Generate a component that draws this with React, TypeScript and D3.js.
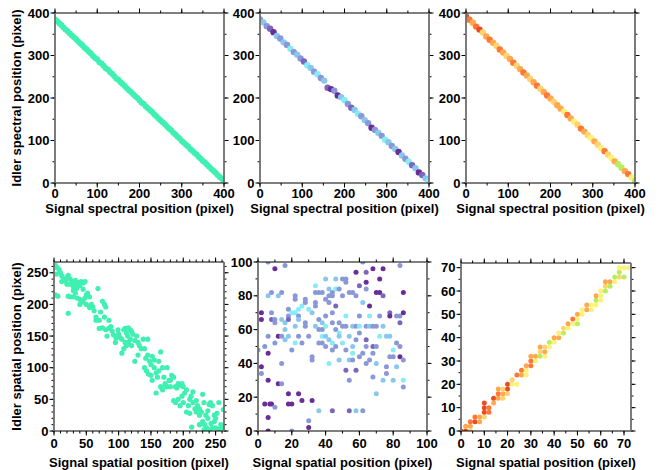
import React from 'react';
import * as d3 from 'd3';

// top row: spectral correlations, [signal px, idler px] (+ colour level)
const spectralGreen: [number, number][] = [
  [0, 385], [5, 381], [10, 376], [15, 372], [20, 366], [25, 361], [30, 357], [35, 352], [40, 347], [45, 343],
  [50, 338], [55, 333], [60, 328], [65, 324], [70, 318], [75, 314], [80, 309], [85, 305], [90, 299], [95, 294],
  [100, 291], [105, 284], [110, 281], [115, 276], [120, 270], [125, 267], [130, 261], [135, 257], [140, 252], [145, 246],
  [150, 243], [155, 237], [160, 233], [165, 228], [170, 223], [175, 218], [180, 214], [185, 209], [190, 204], [195, 200],
  [200, 195], [205, 189], [210, 186], [215, 180], [220, 176], [225, 171], [230, 167], [235, 161], [240, 157], [245, 152],
  [250, 147], [255, 143], [260, 138], [265, 133], [270, 128], [275, 124], [280, 118], [285, 114], [290, 109], [295, 105],
  [300, 99], [305, 95], [310, 90], [315, 86], [320, 80], [325, 76], [330, 71], [335, 67], [340, 62], [345, 57],
  [350, 52], [355, 48], [360, 43], [365, 38], [370, 33], [375, 29], [380, 24], [385, 19], [390, 14], [395, 10], [400, 5],
];

const spectralCool: [number, number, number][] = [
  [0, 385, 2], [8, 378, 1], [16, 369, 2], [24, 363, 3], [32, 355, 4], [40, 346, 1], [48, 340, 2], [56, 331, 1],
  [64, 325, 2], [72, 316, 0], [80, 308, 2], [88, 302, 1], [96, 293, 2], [104, 286, 3], [112, 277, 0], [120, 271, 1],
  [128, 262, 2], [136, 256, 0], [144, 247, 2], [152, 241, 1], [160, 224, 3], [168, 221, 4], [176, 217, 2], [184, 206, 4],
  [192, 202, 1], [200, 195, 0], [208, 186, 2], [216, 177, 3], [224, 172, 1], [232, 163, 0], [240, 157, 2], [248, 148, 1],
  [256, 141, 2], [264, 130, 4], [272, 125, 2], [280, 118, 1], [288, 111, 2], [296, 102, 0], [304, 96, 1], [312, 87, 2],
  [320, 80, 1], [328, 73, 4], [336, 65, 1], [344, 57, 2], [352, 50, 0], [360, 42, 3], [368, 35, 1], [376, 25, 4],
  [384, 19, 3], [392, 11, 1], [400, 4, 0],
];

const spectralWarm: [number, number, number][] = [
  [0, 392, 5], [8, 384, 4], [16, 377, 3], [24, 368, 4], [32, 361, 5], [40, 354, 2], [48, 345, 3], [56, 337, 4],
  [64, 330, 3], [72, 323, 2], [80, 314, 4], [88, 307, 3], [96, 299, 2], [104, 292, 3], [112, 283, 4], [120, 276, 2],
  [128, 268, 3], [136, 260, 4], [144, 253, 3], [152, 245, 2], [160, 237, 3], [168, 229, 4], [176, 222, 2], [184, 214, 3],
  [192, 206, 4], [200, 199, 3], [208, 191, 2], [216, 183, 3], [224, 175, 3], [232, 168, 1], [240, 160, 4], [248, 152, 3],
  [256, 144, 1], [264, 137, 2], [272, 128, 4], [280, 121, 3], [288, 113, 2], [296, 106, 1], [304, 98, 3], [312, 90, 2],
  [320, 82, 1], [328, 75, 4], [336, 67, 2], [344, 59, 1], [352, 51, 3], [360, 44, 0], [368, 36, 0], [376, 28, 3],
  [384, 21, 4], [392, 13, 1], [400, 5, 0],
];

// bottom row: spatial correlations
const spatialGreen: [number, number][] = [
  [2, 262], [5, 258], [8, 255], [10, 250], [4, 248], [12, 245], [15, 240], [18, 238], [20, 243], [22, 246],
  [25, 240], [28, 236], [30, 233], [33, 238], [35, 232], [38, 235], [40, 230], [42, 236], [45, 234], [48, 236],
  [20, 232], [25, 232], [30, 228], [35, 225], [12, 236], [18, 237], [2, 215], [6, 213], [22, 213], [25, 212],
  [30, 212], [33, 218], [36, 210], [40, 208], [43, 206], [45, 204], [48, 210], [50, 215], [52, 218], [55, 212],
  [50, 200], [55, 195], [58, 200], [60, 196], [40, 200], [22, 186], [30, 222], [45, 224],
  [65, 180], [70, 175], [68, 225], [75, 205], [78, 200], [80, 196], [72, 188], [62, 190], [65, 175], [70, 162],
  [75, 163], [80, 160], [82, 150], [85, 162], [88, 165], [90, 158], [92, 152], [95, 140], [96, 147], [99, 160],
  [100, 153], [102, 148], [105, 145], [108, 160], [110, 162], [112, 155], [114, 150], [115, 163], [118, 160], [120, 157],
  [122, 153], [110, 140], [112, 135], [115, 140], [118, 145], [120, 135], [105, 123], [108, 130], [125, 143], [128, 150],
  [130, 140], [132, 135], [135, 130], [138, 145], [140, 130], [125, 110], [130, 120], [145, 145], [78, 180], [85, 175],
  [142, 115], [145, 120], [148, 110], [150, 105], [152, 118], [155, 112], [140, 100], [143, 95], [146, 90], [150, 88],
  [152, 80], [155, 100], [158, 92], [160, 85], [162, 95], [165, 125], [168, 100], [170, 85], [172, 75], [175, 70],
  [178, 80], [180, 70], [182, 88], [185, 85], [188, 70], [190, 68], [192, 75], [195, 72], [198, 75], [200, 70],
  [165, 70], [168, 65], [172, 72], [158, 60], [185, 48], [188, 45], [192, 50], [195, 40], [198, 55], [200, 45],
  [202, 60], [205, 65], [162, 110], [175, 100], [180, 80],
  [205, 30], [208, 40], [210, 50], [212, 55], [215, 45], [218, 35], [220, 30], [222, 40], [225, 25], [228, 30],
  [230, 58], [232, 45], [235, 25], [238, 20], [240, 42], [242, 45], [245, 40], [248, 25], [250, 20], [252, 28],
  [255, 45], [258, 10], [260, 5], [262, 34], [265, 2], [210, 28], [215, 62], [220, 48], [225, 35], [230, 15],
  [233, 10], [236, 5], [240, 2], [245, 5], [248, 15], [238, 32], [243, 12], [213, 6], [225, 10], [250, 5],
  [255, 3], [232, 2],
];

const spatialCool: [number, number, number][] = [
  [0, 48, 2], [2, 70, 4], [2, 66, 4], [2, 38, 4], [2, 34, 2], [4, 50, 2], [4, 16, 4],
  [6, 100, 2], [6, 80, 1], [6, 56, 2], [6, 46, 4], [6, 30, 4], [6, 8, 4], [6, 0, 4],
  [7, 16, 4], [8, 82, 2], [8, 70, 2], [8, 66, 3], [8, 16, 4],
  [10, 96, 4], [10, 66, 2], [10, 64, 2], [10, 52, 2], [10, 14, 2],
  [12, 80, 1], [12, 56, 4], [12, 28, 4], [14, 82, 2], [14, 66, 1], [14, 40, 2], [14, 28, 2], [14, 56, 2],
  [16, 98, 2], [16, 64, 1], [16, 60, 1], [16, 54, 1],
  [18, 72, 2], [18, 68, 2], [18, 66, 3], [18, 56, 1], [18, 22, 4], [18, 16, 4],
  [20, 70, 0], [20, 48, 2], [20, 16, 4], [20, 0, 2],
  [22, 80, 2], [22, 78, 2], [22, 70, 0], [22, 62, 1], [22, 52, 0],
  [24, 72, 0], [24, 68, 2], [24, 66, 1], [24, 56, 2], [24, 22, 4],
  [26, 74, 0], [26, 52, 2], [26, 18, 4], [28, 78, 2], [28, 76, 2], [28, 64, 2], [28, 62, 2],
  [30, 72, 0], [30, 56, 2], [30, 6, 2], [30, 2, 4], [32, 70, 1], [32, 44, 2], [32, 42, 2], [32, 18, 4],
  [34, 86, 0], [34, 82, 2], [34, 76, 2], [34, 74, 2], [34, 62, 1],
  [36, 82, 2], [36, 66, 2], [36, 60, 2], [36, 52, 2], [36, 12, 1],
  [38, 82, 2], [38, 64, 1], [38, 60, 2], [38, 56, 0], [38, 52, 2],
  [40, 90, 1], [40, 78, 2], [40, 68, 2], [40, 62, 0], [40, 56, 1], [40, 50, 2],
  [42, 84, 1], [42, 80, 2], [42, 76, 2], [42, 54, 1], [42, 40, 0],
  [44, 82, 2], [44, 80, 2], [44, 70, 2], [44, 64, 2], [44, 52, 0], [44, 48, 2], [44, 12, 3],
  [46, 90, 1], [46, 84, 0], [46, 74, 3], [46, 60, 2], [46, 50, 2],
  [48, 84, 2], [48, 64, 2], [48, 58, 0], [48, 56, 1], [48, 42, 1],
  [50, 90, 2], [50, 80, 2], [50, 62, 2], [50, 52, 0],
  [52, 90, 2], [52, 88, 2], [52, 68, 0], [52, 62, 2], [52, 48, 2], [52, 36, 3],
  [54, 82, 2], [54, 56, 1], [54, 42, 1], [54, 30, 2], [54, 12, 3],
  [56, 82, 2], [56, 62, 1], [56, 50, 1], [56, 46, 0], [56, 42, 2],
  [58, 94, 4], [58, 80, 2], [58, 62, 2], [58, 54, 2], [58, 36, 3], [58, 12, 1],
  [60, 86, 3], [60, 68, 2], [60, 62, 0], [60, 44, 2], [60, 58, 2],
  [62, 100, 2], [62, 76, 1], [62, 46, 2], [62, 12, 2],
  [64, 94, 3], [64, 88, 4], [64, 84, 2], [64, 62, 2], [64, 54, 3], [64, 50, 2], [64, 40, 2],
  [66, 74, 4], [66, 68, 0], [66, 62, 1], [66, 42, 2],
  [68, 96, 4], [68, 62, 2], [68, 50, 3], [68, 46, 2], [68, 32, 2],
  [70, 82, 4], [70, 62, 2], [70, 50, 2], [70, 40, 1], [70, 22, 1],
  [72, 90, 4], [72, 82, 4], [72, 68, 2], [72, 56, 0],
  [74, 96, 4], [74, 80, 3], [74, 62, 1], [74, 30, 1],
  [76, 56, 1], [76, 38, 2], [76, 34, 2], [78, 70, 3], [78, 68, 4], [78, 56, 1], [78, 44, 2],
  [80, 48, 0], [80, 44, 2], [80, 30, 1], [82, 68, 2], [82, 52, 2], [82, 38, 1],
  [84, 98, 2], [84, 68, 2], [84, 64, 3], [84, 50, 2], [84, 44, 4],
  [86, 82, 4], [86, 70, 4], [86, 42, 2], [86, 30, 0], [86, 26, 2],
];

const spatialWarm: [number, number, number][] = [
  [0, 0, 5], [2, 0, 5], [2, 2, 3], [4, 2, 3], [4, 0, 2], [4, 4, 4], [6, 4, 5], [6, 6, 4],
  [8, 4, 3], [8, 6, 3], [10, 6, 2], [10, 8, 5], [10, 10, 5], [10, 12, 5], [12, 8, 4], [12, 10, 4],
  [14, 12, 3], [14, 14, 5], [16, 14, 3], [16, 16, 4], [16, 18, 3], [18, 14, 2], [18, 16, 3], [18, 18, 2],
  [20, 16, 2], [20, 18, 5], [20, 20, 5], [22, 20, 1], [22, 22, 2], [24, 20, 1], [24, 24, 4], [26, 24, 3],
  [26, 26, 4], [28, 24, 1], [28, 26, 1], [28, 28, 3], [30, 28, 4], [30, 30, 4], [30, 32, 3], [32, 30, 1],
  [32, 32, 3], [34, 32, 0], [34, 34, 2], [34, 36, 3], [36, 32, 1], [36, 34, 3], [36, 36, 2], [38, 36, 1],
  [38, 38, 0], [40, 38, 1], [40, 40, 3], [42, 40, 3], [42, 42, 1], [44, 42, 0], [44, 44, 2], [46, 44, 1],
  [46, 46, 3], [48, 46, 1], [48, 48, 4], [50, 46, 0], [50, 48, 1], [50, 50, 3], [52, 50, 1], [52, 52, 1],
  [54, 52, 3], [54, 54, 3], [56, 52, 1], [56, 54, 1], [58, 54, 1], [58, 56, 0], [58, 58, 3], [60, 56, 1],
  [60, 58, 1], [60, 60, 1], [62, 60, 0], [62, 62, 2], [62, 64, 3], [64, 62, 0], [64, 64, 3], [66, 64, 1],
  [66, 66, 0], [68, 66, 2], [68, 68, 0], [68, 70, 1], [70, 66, 0], [70, 70, 1], [72, 70, 1],
];

const spectralTicks = [0, 100, 200, 300, 400];
const spatialTicksA = [0, 50, 100, 150, 200, 250];
const spatialTicksB = [0, 20, 40, 60, 80, 100];
const spatialTicksC = [0, 10, 20, 30, 40, 50, 60, 70];

const green = '#3ff0b2';
const coolColors = ['#86ecf6', '#88c8ec', '#8a98d8', '#7a66bc', '#6a2c96'];
const warmColors = ['#b8ee5e', '#fbf27a', '#ffd272', '#ffa84e', '#ff7636', '#ee4a22'];

type Dot = { x: number; y: number; fill: string };

const font = "'Liberation Sans', Arial, sans-serif";

function Panel(props: {
  id: string; left: number; top: number; width: number; height: number;
  xMax: number; yMax: number; xTicks: number[]; yTicks: number[];
  xStep: number; yStep: number; dots: Dot[]; r: number;
  xLabel: string; yLabel?: string; tickDy: number; labelY: number;
}) {
  const { id, left, top, width, height, xMax, yMax, xTicks, yTicks, xStep, yStep, dots, r } = props;
  const x = d3.scaleLinear().domain([0, xMax]).range([left, left + width]);
  const y = d3.scaleLinear().domain([0, yMax]).range([top + height, top]);
  const xMinor = d3.range(0, xMax + 1e-6, xStep);
  const yMinor = d3.range(0, yMax + 1e-6, yStep);
  const bottom = top + height;
  const right = left + width;
  const major = 4.5;
  const minor = 2.5;
  return (
    <g>
      <clipPath id={id}>
        <rect x={left} y={top} width={width} height={height} />
      </clipPath>
      <g clipPath={`url(#${id})`}>
        {dots.map((d, i) => (
          <circle key={i} cx={x(d.x)} cy={y(d.y)} r={r} fill={d.fill} />
        ))}
      </g>
      {/* minor ticks */}
      {xMinor.map((v) => (
        <g key={'xm' + v} stroke="#000" strokeWidth={1}>
          <line x1={x(v)} x2={x(v)} y1={bottom} y2={bottom + minor} />
          <line x1={x(v)} x2={x(v)} y1={top} y2={top - minor} />
        </g>
      ))}
      {yMinor.map((v) => (
        <g key={'ym' + v} stroke="#000" strokeWidth={1}>
          <line x1={left} x2={left - minor} y1={y(v)} y2={y(v)} />
          <line x1={right} x2={right + minor} y1={y(v)} y2={y(v)} />
        </g>
      ))}
      {xTicks.map((v) => (
        <g key={'x' + v}>
          <line x1={x(v)} x2={x(v)} y1={bottom} y2={bottom + major} stroke="#000" />
          <line x1={x(v)} x2={x(v)} y1={top} y2={top - major} stroke="#000" />
          <text x={x(v)} y={bottom + props.tickDy} textAnchor="middle">{v}</text>
        </g>
      ))}
      {yTicks.map((v) => (
        <g key={'y' + v}>
          <line x1={left} x2={left - major} y1={y(v)} y2={y(v)} stroke="#000" />
          <line x1={right} x2={right + major} y1={y(v)} y2={y(v)} stroke="#000" />
          <text x={left - 5.5} y={y(v)} dy="0.35em" textAnchor="end">{v}</text>
        </g>
      ))}
      <line x1={left} x2={right} y1={top} y2={top} stroke="#000" strokeWidth={1.2} />
      <line x1={left} x2={right} y1={bottom} y2={bottom} stroke="#000" strokeWidth={1.2} />
      <line x1={left} x2={left} y1={top} y2={bottom} stroke="#6e6e6e" strokeWidth={1.8} />
      <line x1={right} x2={right} y1={top} y2={bottom} stroke="#6e6e6e" strokeWidth={1.8} />
      <text x={(left + right) / 2} y={props.labelY} textAnchor="middle">{props.xLabel}</text>
      {props.yLabel && (
        <text transform={`translate(21,${(top + bottom) / 2}) rotate(-90)`} textAnchor="middle">
          {props.yLabel}
        </text>
      )}
    </g>
  );
}

export default function App() {
  const g1: Dot[] = spectralGreen.map(([a, b]) => ({ x: a, y: b, fill: green }));
  const g2: Dot[] = spectralCool.map(([a, b, c]) => ({ x: a, y: b, fill: coolColors[c] }));
  const g3: Dot[] = spectralWarm.map(([a, b, c]) => ({ x: a, y: b, fill: warmColors[c] }));
  const g4: Dot[] = spatialGreen.map(([a, b]) => ({ x: a, y: b, fill: green }));
  const g5: Dot[] = spatialCool.map(([a, b, c]) => ({ x: a, y: b, fill: coolColors[c] }));
  const g6: Dot[] = spatialWarm.map(([a, b, c]) => ({ x: a, y: b, fill: warmColors[c] }));

  const top = { top: 13, height: 170, tickDy: 14.6, labelY: 213 };
  const bot = { tickDy: 16.6, labelY: 467 };

  return (
    <svg width={660} height={470} style={{ position: 'absolute', left: 0, top: 0, background: '#fff' }}
      fontFamily={font} fontWeight="bold" fontSize={13}>
      <Panel id="c1" left={55} width={169} {...top} xMax={400} yMax={400} xTicks={spectralTicks} yTicks={spectralTicks}
        xStep={50} yStep={50} dots={g1} r={3} xLabel="Signal spectral position (pixel)" yLabel="Idler spectral position (pixel)" />
      <Panel id="c2" left={260} width={169} {...top} xMax={400} yMax={400} xTicks={spectralTicks} yTicks={spectralTicks}
        xStep={50} yStep={50} dots={g2} r={3.2} xLabel="Signal spectral position (pixel)" />
      <Panel id="c3" left={466} width={169} {...top} xMax={400} yMax={400} xTicks={spectralTicks} yTicks={spectralTicks}
        xStep={50} yStep={50} dots={g3} r={3.2} xLabel="Signal spectral position (pixel)" />
      <Panel id="c4" left={54} top={262} width={170} height={169} {...bot} xMax={263} yMax={267} xTicks={spatialTicksA}
        yTicks={spatialTicksA} xStep={10} yStep={10} dots={g4} r={2.6} xLabel="Signal spatial position (pixel)"
        yLabel="Idler spatial position (pixel)" />
      <Panel id="c5" left={258} top={262} width={169} height={169} {...bot} xMax={100} yMax={100} xTicks={spatialTicksB}
        yTicks={spatialTicksB} xStep={10} yStep={10} dots={g5} r={2.5} xLabel="Signal spatial position (pixel)" />
      <Panel id="c6" left={461} top={263} width={170} height={168} {...bot} xMax={73} yMax={72} xTicks={spatialTicksC}
        yTicks={spatialTicksC} xStep={5} yStep={5} dots={g6} r={2.5} xLabel="Signal spatial position (pixel)" />
    </svg>
  );
}
